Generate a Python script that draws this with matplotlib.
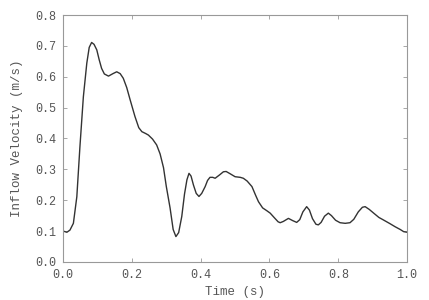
import matplotlib
matplotlib.use("Agg")
import matplotlib.pyplot as plt

# values
time_s = [0.000, 0.011, 0.020, 0.030, 0.040, 0.049, 0.059, 0.069, 0.076, 0.083,
          0.090, 0.098, 0.105, 0.112, 0.120, 0.132, 0.145, 0.156, 0.166, 0.175,
          0.185, 0.195, 0.209, 0.220, 0.229, 0.240, 0.248, 0.260, 0.272, 0.282,
          0.292, 0.300, 0.311, 0.320, 0.328, 0.336, 0.345, 0.353, 0.360, 0.366,
          0.372, 0.379, 0.387, 0.395, 0.403, 0.413, 0.420, 0.427, 0.435, 0.442,
          0.455, 0.466, 0.474, 0.485, 0.500, 0.515, 0.524, 0.535, 0.549, 0.560,
          0.568, 0.580, 0.592, 0.602, 0.615, 0.625, 0.631, 0.640, 0.655, 0.667,
          0.679, 0.688, 0.697, 0.708, 0.716, 0.725, 0.735, 0.742, 0.750, 0.760,
          0.771, 0.780, 0.792, 0.805, 0.820, 0.834, 0.845, 0.858, 0.870, 0.878,
          0.890, 0.905, 0.918, 0.931, 0.950, 0.965, 0.980, 0.990, 1.000]
velocity = [0.100, 0.096, 0.103, 0.125, 0.211, 0.373, 0.535, 0.644, 0.695, 0.711,
            0.705, 0.687, 0.655, 0.627, 0.609, 0.602, 0.610, 0.616, 0.610, 0.595,
            0.565, 0.525, 0.471, 0.435, 0.422, 0.416, 0.411, 0.398, 0.379, 0.350,
            0.305, 0.245, 0.175, 0.105, 0.082, 0.095, 0.147, 0.220, 0.266, 0.287,
            0.278, 0.249, 0.222, 0.212, 0.222, 0.244, 0.264, 0.274, 0.274, 0.271,
            0.282, 0.292, 0.293, 0.286, 0.276, 0.274, 0.271, 0.262, 0.244, 0.215,
            0.195, 0.175, 0.166, 0.158, 0.142, 0.130, 0.127, 0.131, 0.141, 0.134,
            0.128, 0.137, 0.162, 0.179, 0.168, 0.140, 0.122, 0.120, 0.128, 0.148,
            0.158, 0.150, 0.135, 0.127, 0.125, 0.127, 0.138, 0.162, 0.177, 0.179,
            0.170, 0.156, 0.144, 0.136, 0.124, 0.114, 0.105, 0.098, 0.096]
x_ticks = [0.0, 0.2, 0.4, 0.6, 0.8, 1.0]
y_ticks = [0.0, 0.1, 0.2, 0.3, 0.4, 0.5, 0.6, 0.7, 0.8]

plt.rcParams['font.family'] = ['Liberation Mono', 'DejaVu Sans Mono']

fig = plt.figure(figsize=(4.29, 3.0), dpi=100)
ax = fig.add_axes([0.147, 0.127, 0.802, 0.823])
ax.plot(time_s, velocity, color="#333333", linewidth=1.0)

ax.set_xlim(0, 1)
ax.set_ylim(0, 0.8)
ax.set_xticks(x_ticks)
ax.set_yticks(y_ticks)
ax.set_xticklabels([f"{t:.1f}" for t in x_ticks])
ax.set_yticklabels([f"{v:.1f}" for v in y_ticks])
ax.tick_params(direction="in", top=True, right=True, length=3, width=0.6,
               color="#999999", labelcolor="#555555", labelsize=8.5, pad=5)
for spine in ax.spines.values():
    spine.set_edgecolor("#999999")
    spine.set_linewidth(0.8)

ax.set_xlabel("Time (s)", color="#555555", fontsize=9, labelpad=4)
ax.set_ylabel("Inflow Velocity (m/s)", color="#555555", fontsize=9, labelpad=9)

fig.savefig("out.png", dpi=100)
